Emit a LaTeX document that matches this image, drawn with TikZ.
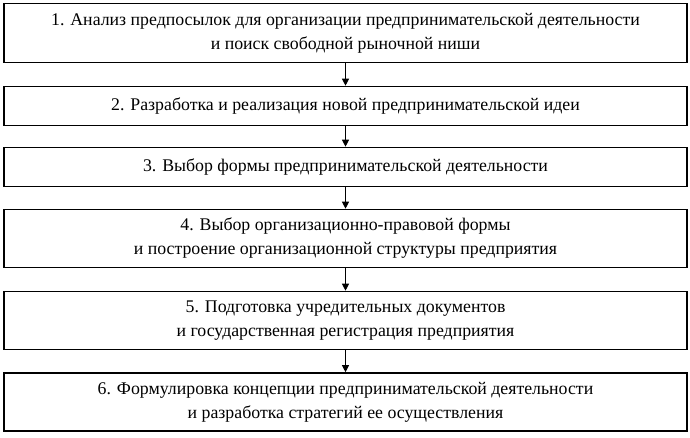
\documentclass[tikz,border=0pt]{standalone}
\usepackage{fontspec}
\setmainfont{Liberation Serif}
\usetikzlibrary{arrows.meta}
\begin{document}
\begin{tikzpicture}[x=1pt,y=-1pt,
  stage/.style={draw,line width=1.6pt,minimum width=683pt,align=center,font=\fontsize{17.8}{24}\selectfont,inner sep=0pt},
  arr/.style={-{Triangle[length=7pt,width=7pt]},line width=1pt}]
\useasboundingbox (0,0) rectangle (690,437);
\node[stage,minimum height=59pt] (b1) at (345.5,33) {1. Анализ предпосылок для организации предпринимательской деятельности\\и поиск свободной рыночной ниши};
\node[stage,minimum height=39pt] (b2) at (345.5,106) {2. Разработка и реализация новой предпринимательской идеи};
\node[stage,minimum height=39pt] (b3) at (345.5,167) {3. Выбор формы предпринимательской деятельности};
\node[stage,minimum height=58pt] (b4) at (345.5,238.5) {4. Выбор организационно-правовой формы\\и построение организационной структуры предприятия};
\node[stage,minimum height=58pt] (b5) at (345.5,320.5) {5. Подготовка учредительных документов\\и государственная регистрация предприятия};
\node[stage,minimum height=58pt] (b6) at (345.5,402) {6. Формулировка концепции предпринимательской деятельности\\и разработка стратегий ее осуществления};
\foreach \a/\b in {b1/b2,b2/b3,b3/b4,b4/b5,b5/b6}
  \draw[arr] (\a.south) -- (\b.north);
\end{tikzpicture}
\end{document}
